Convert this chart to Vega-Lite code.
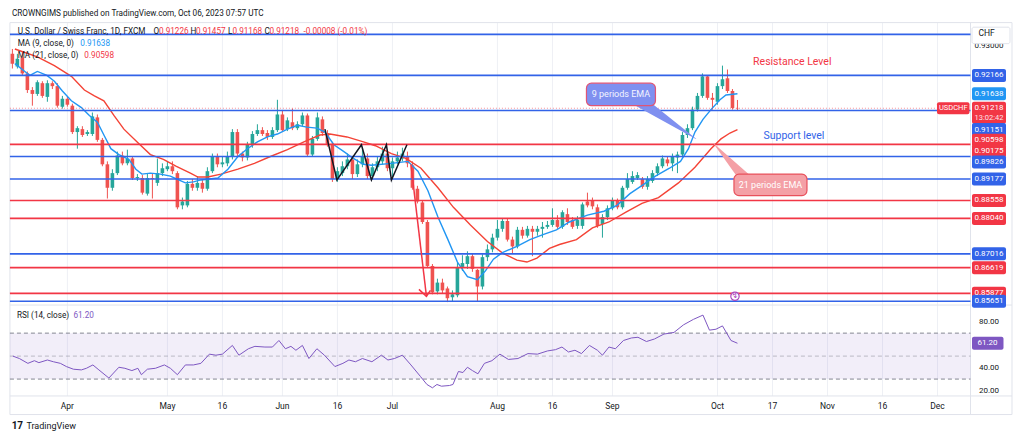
{
"$schema":"https://vega.github.io/schema/vega-lite/v6.json",
"width":1024,"height":443,
"autosize":{"type":"fit","contains":"padding"},
"padding":0,
"background":"white",
"config":{"view":{"stroke":null},"font":"Roboto"},
"datasets":{
"candles":[
{"i":0,"o":0.92787,"h":0.92928,"l":0.92364,"c":0.92505},
{"i":1,"o":0.92420,"h":0.92787,"l":0.92364,"c":0.92646},
{"i":2,"o":0.92674,"h":0.92843,"l":0.92166,"c":0.92223},
{"i":3,"o":0.92223,"h":0.92279,"l":0.91659,"c":0.91743},
{"i":4,"o":0.91743,"h":0.91828,"l":0.91292,"c":0.91631},
{"i":5,"o":0.91631,"h":0.92025,"l":0.91574,"c":0.91969},
{"i":6,"o":0.91941,"h":0.91997,"l":0.91518,"c":0.91574},
{"i":7,"o":0.91546,"h":0.92025,"l":0.91405,"c":0.91941},
{"i":8,"o":0.91941,"h":0.91997,"l":0.91772,"c":0.91856},
{"i":9,"o":0.91856,"h":0.91941,"l":0.91236,"c":0.91292},
{"i":10,"o":0.91264,"h":0.91574,"l":0.91207,"c":0.91490},
{"i":11,"o":0.91490,"h":0.91546,"l":0.91264,"c":0.91320},
{"i":12,"o":0.91292,"h":0.91349,"l":0.90474,"c":0.90531},
{"i":13,"o":0.90531,"h":0.90700,"l":0.90051,"c":0.90643},
{"i":14,"o":0.90615,"h":0.90700,"l":0.90390,"c":0.90446},
{"i":15,"o":0.90474,"h":0.90587,"l":0.90418,"c":0.90531},
{"i":16,"o":0.90474,"h":0.91095,"l":0.90418,"c":0.90982},
{"i":17,"o":0.90954,"h":0.91038,"l":0.90249,"c":0.90305},
{"i":18,"o":0.90305,"h":0.90361,"l":0.89544,"c":0.89600},
{"i":19,"o":0.89600,"h":0.89685,"l":0.88613,"c":0.88923},
{"i":20,"o":0.88923,"h":0.89459,"l":0.88838,"c":0.89346},
{"i":21,"o":0.89346,"h":0.89967,"l":0.89290,"c":0.89854},
{"i":22,"o":0.89854,"h":0.89967,"l":0.89572,"c":0.89628},
{"i":23,"o":0.89628,"h":0.90023,"l":0.89572,"c":0.89769},
{"i":24,"o":0.89769,"h":0.89826,"l":0.89149,"c":0.89205},
{"i":25,"o":0.89205,"h":0.89318,"l":0.89120,"c":0.89233},
{"i":26,"o":0.89205,"h":0.89290,"l":0.88726,"c":0.88782},
{"i":27,"o":0.88754,"h":0.89346,"l":0.88697,"c":0.89205},
{"i":28,"o":0.89205,"h":0.89346,"l":0.88613,"c":0.89177},
{"i":29,"o":0.89064,"h":0.89769,"l":0.88979,"c":0.89346},
{"i":30,"o":0.89346,"h":0.89628,"l":0.89261,"c":0.89487},
{"i":31,"o":0.89459,"h":0.89685,"l":0.89402,"c":0.89544},
{"i":32,"o":0.89544,"h":0.89685,"l":0.89318,"c":0.89402},
{"i":33,"o":0.89346,"h":0.89402,"l":0.88302,"c":0.88359},
{"i":34,"o":0.88415,"h":0.88641,"l":0.88302,"c":0.88528},
{"i":35,"o":0.88415,"h":0.89120,"l":0.88359,"c":0.89036},
{"i":36,"o":0.89036,"h":0.89177,"l":0.88838,"c":0.88923},
{"i":37,"o":0.88923,"h":0.89261,"l":0.88838,"c":0.89064},
{"i":38,"o":0.89064,"h":0.89177,"l":0.88782,"c":0.88895},
{"i":39,"o":0.88895,"h":0.89515,"l":0.88838,"c":0.89402},
{"i":40,"o":0.89402,"h":0.89910,"l":0.89346,"c":0.89826},
{"i":41,"o":0.89826,"h":0.89910,"l":0.89515,"c":0.89600},
{"i":42,"o":0.89600,"h":0.89826,"l":0.89515,"c":0.89656},
{"i":43,"o":0.89628,"h":0.89967,"l":0.89544,"c":0.89826},
{"i":44,"o":0.89826,"h":0.90615,"l":0.89741,"c":0.90531},
{"i":45,"o":0.90531,"h":0.90615,"l":0.89826,"c":0.89910},
{"i":46,"o":0.89910,"h":0.89967,"l":0.89685,"c":0.89798},
{"i":47,"o":0.89798,"h":0.90249,"l":0.89713,"c":0.90164},
{"i":48,"o":0.90164,"h":0.90559,"l":0.90079,"c":0.90474},
{"i":49,"o":0.90474,"h":0.90756,"l":0.90418,"c":0.90587},
{"i":50,"o":0.90587,"h":0.90672,"l":0.90418,"c":0.90474},
{"i":51,"o":0.90503,"h":0.90587,"l":0.90305,"c":0.90390},
{"i":52,"o":0.90390,"h":0.90672,"l":0.90333,"c":0.90587},
{"i":53,"o":0.90587,"h":0.91462,"l":0.90531,"c":0.91038},
{"i":54,"o":0.91038,"h":0.91151,"l":0.90531,"c":0.90587},
{"i":55,"o":0.90615,"h":0.90954,"l":0.90559,"c":0.90869},
{"i":56,"o":0.90813,"h":0.91207,"l":0.90587,"c":0.90643},
{"i":57,"o":0.90643,"h":0.90841,"l":0.90587,"c":0.90756},
{"i":58,"o":0.90756,"h":0.91095,"l":0.90700,"c":0.91010},
{"i":59,"o":0.91010,"h":0.91066,"l":0.89826,"c":0.89882},
{"i":60,"o":0.89882,"h":0.90418,"l":0.89826,"c":0.90333},
{"i":61,"o":0.90333,"h":0.91095,"l":0.90277,"c":0.90954},
{"i":62,"o":0.90897,"h":0.90982,"l":0.90418,"c":0.90503},
{"i":63,"o":0.90503,"h":0.90587,"l":0.90108,"c":0.90192},
{"i":64,"o":0.90192,"h":0.90249,"l":0.89092,"c":0.89177},
{"i":65,"o":0.89177,"h":0.89515,"l":0.89092,"c":0.89402},
{"i":66,"o":0.89346,"h":0.89685,"l":0.89261,"c":0.89544},
{"i":67,"o":0.89544,"h":0.89910,"l":0.89459,"c":0.89741},
{"i":68,"o":0.89741,"h":0.89826,"l":0.89177,"c":0.89318},
{"i":69,"o":0.89318,"h":0.89741,"l":0.89233,"c":0.89600},
{"i":70,"o":0.89600,"h":0.90079,"l":0.89515,"c":0.89826},
{"i":71,"o":0.89769,"h":0.89910,"l":0.89177,"c":0.89261},
{"i":72,"o":0.89261,"h":0.89628,"l":0.89177,"c":0.89515},
{"i":73,"o":0.89515,"h":0.89826,"l":0.89402,"c":0.89685},
{"i":74,"o":0.89685,"h":0.90108,"l":0.89600,"c":0.89910},
{"i":75,"o":0.89910,"h":0.90023,"l":0.89402,"c":0.89487},
{"i":76,"o":0.89487,"h":0.89798,"l":0.89177,"c":0.89685},
{"i":77,"o":0.89685,"h":0.89967,"l":0.89600,"c":0.89798},
{"i":78,"o":0.89769,"h":0.90079,"l":0.89685,"c":0.89910},
{"i":79,"o":0.89826,"h":0.89967,"l":0.89515,"c":0.89628},
{"i":80,"o":0.89572,"h":0.89685,"l":0.88867,"c":0.88923},
{"i":81,"o":0.88895,"h":0.88979,"l":0.88472,"c":0.88528},
{"i":82,"o":0.88500,"h":0.88556,"l":0.87880,"c":0.87936},
{"i":83,"o":0.87936,"h":0.87992,"l":0.86611,"c":0.86667},
{"i":84,"o":0.86667,"h":0.86723,"l":0.85849,"c":0.85906},
{"i":85,"o":0.85934,"h":0.86300,"l":0.85849,"c":0.86187},
{"i":86,"o":0.86187,"h":0.86300,"l":0.85878,"c":0.85962},
{"i":87,"o":0.86018,"h":0.86074,"l":0.85624,"c":0.85736},
{"i":88,"o":0.85764,"h":0.85962,"l":0.85652,"c":0.85849},
{"i":89,"o":0.85821,"h":0.86751,"l":0.85764,"c":0.86639},
{"i":90,"o":0.86639,"h":0.86977,"l":0.86526,"c":0.86751},
{"i":91,"o":0.86723,"h":0.87090,"l":0.86582,"c":0.86949},
{"i":92,"o":0.86949,"h":0.87033,"l":0.86498,"c":0.86582},
{"i":93,"o":0.86554,"h":0.86582,"l":0.85652,"c":0.86074},
{"i":94,"o":0.86074,"h":0.87005,"l":0.85990,"c":0.86921},
{"i":95,"o":0.86921,"h":0.87287,"l":0.86808,"c":0.87146},
{"i":96,"o":0.87146,"h":0.87597,"l":0.87062,"c":0.87484},
{"i":97,"o":0.87484,"h":0.87992,"l":0.87400,"c":0.87738},
{"i":98,"o":0.87738,"h":0.88049,"l":0.87654,"c":0.87964},
{"i":99,"o":0.87964,"h":0.88049,"l":0.87372,"c":0.87428},
{"i":100,"o":0.87428,"h":0.87513,"l":0.87033,"c":0.87231},
{"i":101,"o":0.87231,"h":0.87795,"l":0.87174,"c":0.87710},
{"i":102,"o":0.87710,"h":0.87795,"l":0.87456,"c":0.87541},
{"i":103,"o":0.87541,"h":0.87823,"l":0.87484,"c":0.87738},
{"i":104,"o":0.87738,"h":0.87823,"l":0.86949,"c":0.87654},
{"i":105,"o":0.87654,"h":0.87823,"l":0.87541,"c":0.87738},
{"i":106,"o":0.87738,"h":0.87936,"l":0.87484,"c":0.87795},
{"i":107,"o":0.87795,"h":0.87964,"l":0.87738,"c":0.87851},
{"i":108,"o":0.87851,"h":0.88331,"l":0.87795,"c":0.87992},
{"i":109,"o":0.87992,"h":0.88133,"l":0.87738,"c":0.87795},
{"i":110,"o":0.87795,"h":0.88274,"l":0.87738,"c":0.88218},
{"i":111,"o":0.88162,"h":0.88331,"l":0.87851,"c":0.87936},
{"i":112,"o":0.87992,"h":0.88077,"l":0.87738,"c":0.87795},
{"i":113,"o":0.87823,"h":0.88105,"l":0.87738,"c":0.87992},
{"i":114,"o":0.87823,"h":0.88500,"l":0.87738,"c":0.88443},
{"i":115,"o":0.88528,"h":0.88782,"l":0.88359,"c":0.88415},
{"i":116,"o":0.88556,"h":0.88641,"l":0.88302,"c":0.88387},
{"i":117,"o":0.88359,"h":0.88443,"l":0.87767,"c":0.87823},
{"i":118,"o":0.87880,"h":0.88162,"l":0.87484,"c":0.88077},
{"i":119,"o":0.88077,"h":0.88415,"l":0.87992,"c":0.88331},
{"i":120,"o":0.88331,"h":0.88641,"l":0.88274,"c":0.88556},
{"i":121,"o":0.88556,"h":0.88613,"l":0.88302,"c":0.88359},
{"i":122,"o":0.88359,"h":0.88979,"l":0.88302,"c":0.88923},
{"i":123,"o":0.88923,"h":0.89346,"l":0.88867,"c":0.89177},
{"i":124,"o":0.89092,"h":0.89402,"l":0.89036,"c":0.89261},
{"i":125,"o":0.89205,"h":0.89374,"l":0.89149,"c":0.89290},
{"i":126,"o":0.89177,"h":0.89233,"l":0.88895,"c":0.88951},
{"i":127,"o":0.88951,"h":0.89261,"l":0.88867,"c":0.89177},
{"i":128,"o":0.89120,"h":0.89431,"l":0.89064,"c":0.89346},
{"i":129,"o":0.89346,"h":0.89628,"l":0.89261,"c":0.89544},
{"i":130,"o":0.89544,"h":0.89854,"l":0.89487,"c":0.89769},
{"i":131,"o":0.89741,"h":0.89826,"l":0.89544,"c":0.89628},
{"i":132,"o":0.89628,"h":0.89910,"l":0.89402,"c":0.89826},
{"i":133,"o":0.89798,"h":0.89967,"l":0.89346,"c":0.89882},
{"i":134,"o":0.89882,"h":0.90531,"l":0.89826,"c":0.90446},
{"i":135,"o":0.90446,"h":0.90756,"l":0.90361,"c":0.90643},
{"i":136,"o":0.90643,"h":0.91264,"l":0.90587,"c":0.91179},
{"i":137,"o":0.91179,"h":0.91659,"l":0.91123,"c":0.91574},
{"i":138,"o":0.91574,"h":0.92223,"l":0.91518,"c":0.92138},
{"i":139,"o":0.92138,"h":0.92166,"l":0.91462,"c":0.91518},
{"i":140,"o":0.91518,"h":0.91659,"l":0.91179,"c":0.91462},
{"i":141,"o":0.91405,"h":0.91941,"l":0.91320,"c":0.91856},
{"i":142,"o":0.91856,"h":0.92448,"l":0.91772,"c":0.92054},
{"i":143,"o":0.92082,"h":0.92336,"l":0.91659,"c":0.91715},
{"i":144,"o":0.91715,"h":0.91772,"l":0.91179,"c":0.91226},
{"i":145,"o":0.91226,"h":0.91457,"l":0.91168,"c":0.91218}
],
"ma9":[
{"i":0.5,"v":0.92505},{"i":2.5,"v":0.92279},{"i":3.5,"v":0.92166},{"i":5,"v":0.92279},{"i":6.9,"v":0.92166},{"i":8.4,"v":0.91997},{"i":10,"v":0.91715},{"i":11.8,"v":0.91433},{"i":13.8,"v":0.91236},{"i":15.4,"v":0.9101},{"i":17,"v":0.90813},{"i":18.3,"v":0.90446},{"i":19.7,"v":0.90051},{"i":21.3,"v":0.89882},{"i":23.3,"v":0.89741},{"i":24.7,"v":0.89459},{"i":25.9,"v":0.89318},{"i":27.6,"v":0.89346},{"i":29.6,"v":0.89318},{"i":31.6,"v":0.89261},{"i":32.8,"v":0.89177},{"i":34.6,"v":0.89064},{"i":36.2,"v":0.89092},{"i":37.7,"v":0.89149},{"i":41.1,"v":0.89205},{"i":43.1,"v":0.89459},{"i":45.1,"v":0.89826},{"i":47,"v":0.90051},{"i":49,"v":0.90249},{"i":51,"v":0.9039},{"i":53,"v":0.90474},{"i":55,"v":0.90615},{"i":57,"v":0.90728},{"i":58.9,"v":0.90672},{"i":60.9,"v":0.90643},{"i":62.5,"v":0.90531},{"i":64.3,"v":0.90164},{"i":66.3,"v":0.89967},{"i":68.2,"v":0.89769},{"i":70.2,"v":0.896},{"i":71.8,"v":0.89572},{"i":75.8,"v":0.89628},{"i":79.1,"v":0.89685},{"i":81.1,"v":0.89402},{"i":83.1,"v":0.88838},{"i":85.1,"v":0.88077},{"i":87.1,"v":0.87428},{"i":89,"v":0.8678},{"i":91,"v":0.86357},{"i":93,"v":0.86272},{"i":94.6,"v":0.86526},{"i":96.2,"v":0.86864},{"i":98.1,"v":0.87062},{"i":100.9,"v":0.87231},{"i":103.5,"v":0.87428},{"i":106.1,"v":0.87569},{"i":108.8,"v":0.8771},{"i":111.4,"v":0.87936},{"i":115,"v":0.88133},{"i":118.3,"v":0.88246},{"i":120.9,"v":0.88415},{"i":123.5,"v":0.88754},{"i":126.1,"v":0.89008},{"i":128.6,"v":0.89261},{"i":131.4,"v":0.89487},{"i":133.6,"v":0.89685},{"i":135.2,"v":0.90051},{"i":136.5,"v":0.90531},{"i":138.1,"v":0.90897},{"i":139.7,"v":0.91179},{"i":141.5,"v":0.91462},{"i":142.7,"v":0.91602},{"i":145,"v":0.91638}
],
"ma21":[
{"i":0.5,"v":0.92928},{"i":5,"v":0.92702},{"i":8.4,"v":0.92448},{"i":11.8,"v":0.92138},{"i":14.4,"v":0.91743},{"i":16.4,"v":0.91574},{"i":18.3,"v":0.91433},{"i":20.3,"v":0.9101},{"i":22.3,"v":0.90615},{"i":24.9,"v":0.90249},{"i":27.6,"v":0.89882},{"i":30.2,"v":0.89741},{"i":32.8,"v":0.89544},{"i":35.6,"v":0.89346},{"i":37.1,"v":0.89233},{"i":39.1,"v":0.89233},{"i":41.7,"v":0.89318},{"i":45.1,"v":0.89459},{"i":48.4,"v":0.89628},{"i":51.6,"v":0.89826},{"i":55,"v":0.90023},{"i":58.3,"v":0.90249},{"i":61.5,"v":0.90446},{"i":63.5,"v":0.90474},{"i":66.9,"v":0.9039},{"i":70.2,"v":0.90249},{"i":72.6,"v":0.90136},{"i":75.8,"v":0.8991},{"i":78.7,"v":0.89769},{"i":81.7,"v":0.89487},{"i":85.1,"v":0.88923},{"i":88.2,"v":0.88359},{"i":91.6,"v":0.87851},{"i":95,"v":0.87372},{"i":98.1,"v":0.87033},{"i":100.9,"v":0.86836},{"i":102.9,"v":0.8678},{"i":104.9,"v":0.86892},{"i":107.4,"v":0.87174},{"i":109.4,"v":0.87287},{"i":112.8,"v":0.87428},{"i":116,"v":0.87767},{"i":119.3,"v":0.87936},{"i":122.7,"v":0.88218},{"i":125.9,"v":0.88472},{"i":129.2,"v":0.88641},{"i":133.2,"v":0.89064},{"i":136.5,"v":0.89515},{"i":139.7,"v":0.90051},{"i":141.7,"v":0.90333},{"i":143.5,"v":0.90503},{"i":145,"v":0.90598}
],
"rsi":[
{"i":0.1,"r":50.0},{"i":1.4,"r":47.9},{"i":3.1,"r":43.7},{"i":4.4,"r":46.0},{"i":5.3,"r":44.3},{"i":7,"r":46.6},{"i":8.2,"r":45.1},{"i":9.6,"r":43.7},{"i":10.8,"r":40.9},{"i":12.2,"r":38.6},{"i":13.8,"r":38.0},{"i":14.8,"r":39.4},{"i":16.1,"r":42.3},{"i":17.3,"r":38.0},{"i":19.3,"r":30.9},{"i":21.3,"r":40.3},{"i":22.5,"r":39.4},{"i":23.9,"r":37.4},{"i":25.1,"r":39.4},{"i":25.8,"r":33.8},{"i":27,"r":38.6},{"i":28.6,"r":39.4},{"i":30.4,"r":42.3},{"i":31.6,"r":39.4},{"i":33,"r":33.8},{"i":34.6,"r":42.3},{"i":36.2,"r":42.3},{"i":37.7,"r":43.7},{"i":39.4,"r":51.7},{"i":40.7,"r":50.8},{"i":42,"r":51.7},{"i":44,"r":59.3},{"i":45.3,"r":50.8},{"i":47.2,"r":56.4},{"i":48.5,"r":58.5},{"i":50.5,"r":57.9},{"i":52,"r":57.9},{"i":53.3,"r":63.6},{"i":54.6,"r":56.4},{"i":55.7,"r":58.5},{"i":56.7,"r":55.1},{"i":58,"r":59.3},{"i":59.3,"r":47.9},{"i":60.9,"r":56.4},{"i":62.4,"r":50.8},{"i":64.5,"r":40.9},{"i":66.1,"r":43.7},{"i":67.3,"r":46.6},{"i":68.6,"r":45.1},{"i":70,"r":47.9},{"i":71.9,"r":45.1},{"i":73.8,"r":50.8},{"i":75.1,"r":46.6},{"i":76.4,"r":47.9},{"i":78,"r":50.8},{"i":79.7,"r":42.3},{"i":81.6,"r":32.3},{"i":82.9,"r":25.3},{"i":84,"r":22.4},{"i":84.9,"r":25.3},{"i":85.8,"r":23.8},{"i":87.4,"r":24.4},{"i":88.1,"r":25.3},{"i":89.2,"r":36.6},{"i":90.1,"r":35.7},{"i":91,"r":40.3},{"i":92,"r":37.4},{"i":93.1,"r":34.6},{"i":94.4,"r":43.7},{"i":95.9,"r":46.0},{"i":97.5,"r":51.7},{"i":99.2,"r":47.1},{"i":101.1,"r":47.9},{"i":103.1,"r":52.2},{"i":105,"r":51.7},{"i":107,"r":54.5},{"i":108.6,"r":55.6},{"i":109.9,"r":57.9},{"i":111.2,"r":53.6},{"i":112.5,"r":55.1},{"i":113.8,"r":52.2},{"i":115.4,"r":59.3},{"i":117,"r":55.1},{"i":118,"r":50.8},{"i":119.3,"r":57.9},{"i":120.6,"r":56.4},{"i":122.2,"r":63.6},{"i":123.8,"r":65.8},{"i":125.1,"r":66.4},{"i":126.8,"r":62.7},{"i":128.4,"r":64.9},{"i":130.3,"r":69.2},{"i":132.3,"r":70.6},{"i":134.2,"r":77.2},{"i":136.2,"r":82.0},{"i":138.1,"r":85.7},{"i":139.4,"r":72.6},{"i":140.7,"r":73.4},{"i":142,"r":76.3},{"i":143.7,"r":63.6},{"i":145,"r":61.2}
],
"levels":[
{"v":0.9335,"g":"A"},{"v":0.92166,"g":"A"},{"v":0.91151,"g":"A"},{"v":0.90175,"g":"B"},{"v":0.89826,"g":"A"},{"v":0.89177,"g":"A"},{"v":0.88558,"g":"B"},{"v":0.8804,"g":"B"},{"v":0.87016,"g":"A"},{"v":0.86619,"g":"B"},{"v":0.85877,"g":"B"},{"v":0.85651,"g":"A"}
],
"tags":[
{"v":0.92166,"g":"A"},{"v":0.91638,"g":"MA9"},{"v":0.91151,"g":"A"},{"v":0.90598,"g":"MA21"},{"v":0.90175,"g":"B"},{"v":0.89826,"g":"A"},{"v":0.89177,"g":"A"},{"v":0.88558,"g":"B"},{"v":0.8804,"g":"B"},{"v":0.87016,"g":"A"},{"v":0.86619,"g":"B"},{"v":0.85877,"g":"B"},{"v":0.85651,"g":"A"}
],
"zigzag":[
{"k":0,"i":62.5,"p":0.90615},{"k":1,"i":64.9,"p":0.89148},{"k":2,"i":69.8,"p":0.90164},{"k":3,"i":71.8,"p":0.89148},{"k":4,"i":74.8,"p":0.90164},{"k":5,"i":75.8,"p":0.89148},{"k":6,"i":78.9,"p":0.90164}
],
"arrow":[
{"part":"shaft","k":0,"i":79.7,"p":0.896},{"part":"shaft","k":1,"i":82.8,"p":0.85793},
{"part":"head","k":0,"i":81.3,"p":0.8599},{"part":"head","k":1,"i":82.8,"p":0.85793},{"part":"head","k":2,"i":83.6,"p":0.85962}
],
"pointers":[
{"c":"ema9","end":"base","i":125.3,"p":0.91433},{"c":"ema9","end":"tip","i":136.7,"p":0.90333},
{"c":"ema21","end":"base","i":147.0,"p":0.8912},{"c":"ema21","end":"tip","i":140.3,"p":0.90192}
],
"ticks":[
{"i":11,"t":"Apr"},{"i":31,"t":"May"},{"i":42,"t":"16"},{"i":54,"t":"Jun"},{"i":65,"t":"16"},{"i":76,"t":"Jul"},{"i":97,"t":"Aug"},{"i":108,"t":"16"},{"i":120,"t":"Sep"},{"i":141,"t":"Oct"},{"i":152,"t":"17"},{"i":163,"t":"Nov"},{"i":174,"t":"16"},{"i":185,"t":"Dec"}
],
"pticks":[{"v":0.93}]
},
"layer":[
{
"layer":[
{"data":{"name":"ticks"},"mark":{"type":"rule","color":"#eef0f5","strokeWidth":1},
 "encoding":{"x":{"field":"i","type":"quantitative","scale":{"domain":[-1.475,201.3],"nice":false,"zero":false},"axis":null},
 "y":{"datum":0.93689,"type":"quantitative","scale":{"domain":[0.81703,0.94197],"nice":false,"zero":false},"axis":null},"y2":{"datum":0.82916}}},
{"data":{"values":[{}]},"mark":{"type":"rect","fillOpacity":0,"stroke":"#e0e3eb","strokeWidth":1},
 "encoding":{"x":{"datum":-0.49,"type":"quantitative","scale":{"domain":[-1.475,201.3],"nice":false,"zero":false},"axis":null},"x2":{"datum":199.9},
 "y":{"datum":0.93689,"type":"quantitative","scale":{"domain":[0.81703,0.94197],"nice":false,"zero":false},"axis":null},"y2":{"datum":0.8238}}},
{"data":{"values":[{"p":0.85539},{"p":0.82916}]},"mark":{"type":"rule","color":"#e0e3eb"},
 "encoding":{"x":{"datum":-0.49,"type":"quantitative","scale":{"domain":[-1.475,201.3],"nice":false,"zero":false},"axis":null},"x2":{"datum":199.9},
 "y":{"field":"p","type":"quantitative","scale":{"domain":[0.81703,0.94197],"nice":false,"zero":false},"axis":null}}},
{"data":{"values":[{}]},"mark":{"type":"rule","color":"#e0e3eb"},
 "encoding":{"x":{"datum":191.6,"type":"quantitative","scale":{"domain":[-1.475,201.3],"nice":false,"zero":false},"axis":null},
 "y":{"datum":0.93689,"type":"quantitative","scale":{"domain":[0.81703,0.94197],"nice":false,"zero":false},"axis":null},"y2":{"datum":0.8238}}},
{"data":{"name":"candles"},"mark":{"type":"rule","strokeWidth":1},
 "encoding":{"x":{"field":"i","type":"quantitative","scale":{"domain":[-1.475,201.3],"nice":false,"zero":false},"axis":null},
 "y":{"field":"l","type":"quantitative","scale":{"domain":[0.81703,0.94197],"nice":false,"zero":false},"axis":null},"y2":{"field":"h"},
 "color":{"condition":{"test":"datum.c >= datum.o","value":"#26a69a"},"value":"#ef5350"}}},
{"data":{"name":"candles"},"mark":{"type":"bar","size":3.6},
 "encoding":{"x":{"field":"i","type":"quantitative","scale":{"domain":[-1.475,201.3],"nice":false,"zero":false},"axis":null},
 "y":{"field":"o","type":"quantitative","scale":{"domain":[0.81703,0.94197],"nice":false,"zero":false},"axis":null},"y2":{"field":"c"},
 "color":{"condition":{"test":"datum.c >= datum.o","value":"#26a69a"},"value":"#ef5350"}}},
{"data":{"name":"ma21"},"mark":{"type":"line","color":"#f44336","strokeWidth":1.4},
 "encoding":{"x":{"field":"i","type":"quantitative","scale":{"domain":[-1.475,201.3],"nice":false,"zero":false},"axis":null},
 "y":{"field":"v","type":"quantitative","scale":{"domain":[0.81703,0.94197],"nice":false,"zero":false},"axis":null}}},
{"data":{"name":"ma9"},"mark":{"type":"line","color":"#2196f3","strokeWidth":1.4},
 "encoding":{"x":{"field":"i","type":"quantitative","scale":{"domain":[-1.475,201.3],"nice":false,"zero":false},"axis":null},
 "y":{"field":"v","type":"quantitative","scale":{"domain":[0.81703,0.94197],"nice":false,"zero":false},"axis":null}}},
{"data":{"name":"levels"},"mark":{"type":"rule","strokeWidth":1.6},
 "encoding":{"x":{"datum":-0.49,"type":"quantitative","scale":{"domain":[-1.475,201.3],"nice":false,"zero":false},"axis":null},"x2":{"datum":191.6},
 "y":{"field":"v","type":"quantitative","scale":{"domain":[0.81703,0.94197],"nice":false,"zero":false},"axis":null},
 "color":{"field":"g","type":"nominal","scale":{"domain":["A","B","MA9","MA21"],"range":["#3263e8","#f23645","#2196f3","#f23645"]},"legend":null}}},
{"data":{"values":[{"v":0.91218}]},"mark":{"type":"rule","color":"#f23645","opacity":0.55,"strokeDash":[1,2]},
 "encoding":{"x":{"datum":-0.49,"type":"quantitative","scale":{"domain":[-1.475,201.3],"nice":false,"zero":false},"axis":null},"x2":{"datum":184.9},
 "y":{"field":"v","type":"quantitative","scale":{"domain":[0.81703,0.94197],"nice":false,"zero":false},"axis":null}}},
{"data":{"name":"zigzag"},"mark":{"type":"line","color":"#131722","strokeWidth":1.5},
 "encoding":{"x":{"field":"i","type":"quantitative","scale":{"domain":[-1.475,201.3],"nice":false,"zero":false},"axis":null},
 "y":{"field":"p","type":"quantitative","scale":{"domain":[0.81703,0.94197],"nice":false,"zero":false},"axis":null},"order":{"field":"k"}}},
{"data":{"name":"arrow"},"mark":{"type":"line","color":"#f23645","strokeWidth":1.5},
 "encoding":{"x":{"field":"i","type":"quantitative","scale":{"domain":[-1.475,201.3],"nice":false,"zero":false},"axis":null},
 "y":{"field":"p","type":"quantitative","scale":{"domain":[0.81703,0.94197],"nice":false,"zero":false},"axis":null},"detail":{"field":"part"},"order":{"field":"k"}}},
{"data":{"name":"pointers"},"transform":[{"filter":"datum.c == 'ema9'"}],"mark":{"type":"trail","color":"#7f90f0"},
 "encoding":{"x":{"field":"i","type":"quantitative","scale":{"domain":[-1.475,201.3],"nice":false,"zero":false},"axis":null},
 "y":{"field":"p","type":"quantitative","scale":{"domain":[0.81703,0.94197],"nice":false,"zero":false},"axis":null},
 "size":{"field":"end","type":"ordinal","scale":{"domain":["base","tip"],"range":[12,0.5]},"legend":null}}},
{"data":{"values":[{}]},"mark":{"type":"rect","cornerRadius":5,"fill":"#7f90f0","stroke":"#e05575","strokeWidth":1.2},
 "encoding":{"x":{"datum":114.8,"type":"quantitative","scale":{"domain":[-1.475,201.3],"nice":false,"zero":false},"axis":null},"x2":{"datum":128.6},
 "y":{"datum":0.91941,"type":"quantitative","scale":{"domain":[0.81703,0.94197],"nice":false,"zero":false},"axis":null},"y2":{"datum":0.91292}}},
{"data":{"values":[{}]},"mark":{"type":"text","text":"9 periods EMA","color":"#f4f5ff","fontSize":9,"align":"center","baseline":"middle"},
 "encoding":{"x":{"datum":121.7,"type":"quantitative","scale":{"domain":[-1.475,201.3],"nice":false,"zero":false},"axis":null},
 "y":{"datum":0.91616,"type":"quantitative","scale":{"domain":[0.81703,0.94197],"nice":false,"zero":false},"axis":null}}},
{"data":{"name":"pointers"},"transform":[{"filter":"datum.c == 'ema21'"}],"mark":{"type":"trail","color":"#f4a0a6"},
 "encoding":{"x":{"field":"i","type":"quantitative","scale":{"domain":[-1.475,201.3],"nice":false,"zero":false},"axis":null},
 "y":{"field":"p","type":"quantitative","scale":{"domain":[0.81703,0.94197],"nice":false,"zero":false},"axis":null},
 "size":{"field":"end","type":"ordinal","scale":{"domain":["base","tip"],"range":[12,0.5]},"legend":null}}},
{"data":{"values":[{}]},"mark":{"type":"rect","cornerRadius":5,"fill":"#f4a0a6","stroke":"#e8505b","strokeWidth":1.2},
 "encoding":{"x":{"datum":144.3,"type":"quantitative","scale":{"domain":[-1.475,201.3],"nice":false,"zero":false},"axis":null},"x2":{"datum":158.9},
 "y":{"datum":0.89318,"type":"quantitative","scale":{"domain":[0.81703,0.94197],"nice":false,"zero":false},"axis":null},"y2":{"datum":0.88697}}},
{"data":{"values":[{}]},"mark":{"type":"text","text":"21 periods EMA","color":"#ffffff","fontSize":9,"align":"center","baseline":"middle"},
 "encoding":{"x":{"datum":151.6,"type":"quantitative","scale":{"domain":[-1.475,201.3],"nice":false,"zero":false},"axis":null},
 "y":{"datum":0.89008,"type":"quantitative","scale":{"domain":[0.81703,0.94197],"nice":false,"zero":false},"axis":null}}},
{"data":{"values":[{}]},"mark":{"type":"text","text":"Resistance Level","color":"#f23645","fontSize":10.5,"align":"center","baseline":"middle"},
 "encoding":{"x":{"datum":155.96,"type":"quantitative","scale":{"domain":[-1.475,201.3],"nice":false,"zero":false},"axis":null},
 "y":{"datum":0.92561,"type":"quantitative","scale":{"domain":[0.81703,0.94197],"nice":false,"zero":false},"axis":null}}},
{"data":{"values":[{}]},"mark":{"type":"text","text":"Support level","color":"#3263e8","fontSize":10.5,"align":"center","baseline":"middle"},
 "encoding":{"x":{"datum":156.3,"type":"quantitative","scale":{"domain":[-1.475,201.3],"nice":false,"zero":false},"axis":null},
 "y":{"datum":0.90418,"type":"quantitative","scale":{"domain":[0.81703,0.94197],"nice":false,"zero":false},"axis":null}}},
{"data":{"values":[{}]},"mark":{"type":"point","shape":"circle","filled":true,"fill":"white","stroke":"#ab47bc","strokeWidth":1.2,"size":70,"opacity":1},
 "encoding":{"x":{"datum":144.5,"type":"quantitative","scale":{"domain":[-1.475,201.3],"nice":false,"zero":false},"axis":null},
 "y":{"datum":0.85793,"type":"quantitative","scale":{"domain":[0.81703,0.94197],"nice":false,"zero":false},"axis":null}}},
{"data":{"values":[{}]},"mark":{"type":"text","text":"↯","font":"DejaVu Sans","color":"#ab47bc","fontSize":8,"align":"center","baseline":"middle"},
 "encoding":{"x":{"datum":144.5,"type":"quantitative","scale":{"domain":[-1.475,201.3],"nice":false,"zero":false},"axis":null},
 "y":{"datum":0.85793,"type":"quantitative","scale":{"domain":[0.81703,0.94197],"nice":false,"zero":false},"axis":null}}},
{"data":{"values":[{}]},"mark":{"type":"text","text":"CROWNGIMS published on TradingView.com, Oct 06, 2023 07:57 UTC","color":"#131722","fontSize":8.2,"align":"left","baseline":"middle"},
 "encoding":{"x":{"datum":-0.08,"type":"quantitative","scale":{"domain":[-1.475,201.3],"nice":false,"zero":false},"axis":null},
 "y":{"datum":0.93943,"type":"quantitative","scale":{"domain":[0.81703,0.94197],"nice":false,"zero":false},"axis":null}}},
{"data":{"values":[{}]},"mark":{"type":"text","text":"U.S. Dollar / Swiss Franc, 1D, FXCM","color":"#131722","fontSize":8.2,"align":"left","baseline":"middle"},
 "encoding":{"x":{"datum":1.05,"type":"quantitative","scale":{"domain":[-1.475,201.3],"nice":false,"zero":false},"axis":null},
 "y":{"datum":0.93427,"type":"quantitative","scale":{"domain":[0.81703,0.94197],"nice":false,"zero":false},"axis":null}}},
{"data":{"values":[{}]},"mark":{"type":"text","text":"O","color":"#131722","fontSize":8.2,"align":"left","baseline":"middle"},
 "encoding":{"x":{"datum":28.24,"type":"quantitative","scale":{"domain":[-1.475,201.3],"nice":false,"zero":false},"axis":null},
 "y":{"datum":0.93427,"type":"quantitative","scale":{"domain":[0.81703,0.94197],"nice":false,"zero":false},"axis":null}}},
{"data":{"values":[{}]},"mark":{"type":"text","text":"0.91226","color":"#f23645","fontSize":8.2,"align":"left","baseline":"middle"},
 "encoding":{"x":{"datum":29.3,"type":"quantitative","scale":{"domain":[-1.475,201.3],"nice":false,"zero":false},"axis":null},
 "y":{"datum":0.93427,"type":"quantitative","scale":{"domain":[0.81703,0.94197],"nice":false,"zero":false},"axis":null}}},
{"data":{"values":[{}]},"mark":{"type":"text","text":"H","color":"#131722","fontSize":8.2,"align":"left","baseline":"middle"},
 "encoding":{"x":{"datum":35.6,"type":"quantitative","scale":{"domain":[-1.475,201.3],"nice":false,"zero":false},"axis":null},
 "y":{"datum":0.93427,"type":"quantitative","scale":{"domain":[0.81703,0.94197],"nice":false,"zero":false},"axis":null}}},
{"data":{"values":[{}]},"mark":{"type":"text","text":"0.91457","color":"#f23645","fontSize":8.2,"align":"left","baseline":"middle"},
 "encoding":{"x":{"datum":36.7,"type":"quantitative","scale":{"domain":[-1.475,201.3],"nice":false,"zero":false},"axis":null},
 "y":{"datum":0.93427,"type":"quantitative","scale":{"domain":[0.81703,0.94197],"nice":false,"zero":false},"axis":null}}},
{"data":{"values":[{}]},"mark":{"type":"text","text":"L","color":"#131722","fontSize":8.2,"align":"left","baseline":"middle"},
 "encoding":{"x":{"datum":43.1,"type":"quantitative","scale":{"domain":[-1.475,201.3],"nice":false,"zero":false},"axis":null},
 "y":{"datum":0.93427,"type":"quantitative","scale":{"domain":[0.81703,0.94197],"nice":false,"zero":false},"axis":null}}},
{"data":{"values":[{}]},"mark":{"type":"text","text":"0.91168","color":"#f23645","fontSize":8.2,"align":"left","baseline":"middle"},
 "encoding":{"x":{"datum":44.0,"type":"quantitative","scale":{"domain":[-1.475,201.3],"nice":false,"zero":false},"axis":null},
 "y":{"datum":0.93427,"type":"quantitative","scale":{"domain":[0.81703,0.94197],"nice":false,"zero":false},"axis":null}}},
{"data":{"values":[{}]},"mark":{"type":"text","text":"C","color":"#131722","fontSize":8.2,"align":"left","baseline":"middle"},
 "encoding":{"x":{"datum":50.4,"type":"quantitative","scale":{"domain":[-1.475,201.3],"nice":false,"zero":false},"axis":null},
 "y":{"datum":0.93427,"type":"quantitative","scale":{"domain":[0.81703,0.94197],"nice":false,"zero":false},"axis":null}}},
{"data":{"values":[{}]},"mark":{"type":"text","text":"0.91218","color":"#f23645","fontSize":8.2,"align":"left","baseline":"middle"},
 "encoding":{"x":{"datum":51.4,"type":"quantitative","scale":{"domain":[-1.475,201.3],"nice":false,"zero":false},"axis":null},
 "y":{"datum":0.93427,"type":"quantitative","scale":{"domain":[0.81703,0.94197],"nice":false,"zero":false},"axis":null}}},
{"data":{"values":[{}]},"mark":{"type":"text","text":"-0.00008 (-0.01%)","color":"#f23645","fontSize":8.2,"align":"left","baseline":"middle"},
 "encoding":{"x":{"datum":58.2,"type":"quantitative","scale":{"domain":[-1.475,201.3],"nice":false,"zero":false},"axis":null},
 "y":{"datum":0.93427,"type":"quantitative","scale":{"domain":[0.81703,0.94197],"nice":false,"zero":false},"axis":null}}},
{"data":{"values":[{}]},"mark":{"type":"text","text":"MA (9, close, 0)","color":"#131722","fontSize":8.2,"align":"left","baseline":"middle"},
 "encoding":{"x":{"datum":1.05,"type":"quantitative","scale":{"domain":[-1.475,201.3],"nice":false,"zero":false},"axis":null},
 "y":{"datum":0.93069,"type":"quantitative","scale":{"domain":[0.81703,0.94197],"nice":false,"zero":false},"axis":null}}},
{"data":{"values":[{}]},"mark":{"type":"text","text":"0.91638","color":"#2196f3","fontSize":8.2,"align":"left","baseline":"middle"},
 "encoding":{"x":{"datum":13.58,"type":"quantitative","scale":{"domain":[-1.475,201.3],"nice":false,"zero":false},"axis":null},
 "y":{"datum":0.93069,"type":"quantitative","scale":{"domain":[0.81703,0.94197],"nice":false,"zero":false},"axis":null}}},
{"data":{"values":[{}]},"mark":{"type":"text","text":"MA (21, close, 0)","color":"#131722","fontSize":8.2,"align":"left","baseline":"middle"},
 "encoding":{"x":{"datum":1.05,"type":"quantitative","scale":{"domain":[-1.475,201.3],"nice":false,"zero":false},"axis":null},
 "y":{"datum":0.92739,"type":"quantitative","scale":{"domain":[0.81703,0.94197],"nice":false,"zero":false},"axis":null}}},
{"data":{"values":[{}]},"mark":{"type":"text","text":"0.90598","color":"#f23645","fontSize":8.2,"align":"left","baseline":"middle"},
 "encoding":{"x":{"datum":14.38,"type":"quantitative","scale":{"domain":[-1.475,201.3],"nice":false,"zero":false},"axis":null},
 "y":{"datum":0.92739,"type":"quantitative","scale":{"domain":[0.81703,0.94197],"nice":false,"zero":false},"axis":null}}},
{"data":{"name":"ticks"},"mark":{"type":"text","color":"#131722","fontSize":8.5,"align":"center","baseline":"middle"},
 "encoding":{"x":{"field":"i","type":"quantitative","scale":{"domain":[-1.475,201.3],"nice":false,"zero":false},"axis":null},
 "y":{"datum":0.82634,"type":"quantitative","scale":{"domain":[0.81703,0.94197],"nice":false,"zero":false},"axis":null},"text":{"field":"t"}}},
{"data":{"values":[{}]},"mark":{"type":"text","text":"17","color":"#131722","fontSize":10,"fontWeight":"bold","align":"left","baseline":"middle"},
 "encoding":{"x":{"datum":-0.15,"type":"quantitative","scale":{"domain":[-1.475,201.3],"nice":false,"zero":false},"axis":null},
 "y":{"datum":0.82042,"type":"quantitative","scale":{"domain":[0.81703,0.94197],"nice":false,"zero":false},"axis":null}}},
{"data":{"values":[{}]},"mark":{"type":"text","text":"TradingView","color":"#131722","fontSize":9,"align":"left","baseline":"middle"},
 "encoding":{"x":{"datum":2.8,"type":"quantitative","scale":{"domain":[-1.475,201.3],"nice":false,"zero":false},"axis":null},
 "y":{"datum":0.82042,"type":"quantitative","scale":{"domain":[0.81703,0.94197],"nice":false,"zero":false},"axis":null}}},
{"data":{"name":"pticks"},"mark":{"type":"text","color":"#131722","fontSize":8,"align":"center","baseline":"middle"},
 "encoding":{"x":{"datum":195.3,"type":"quantitative","scale":{"domain":[-1.475,201.3],"nice":false,"zero":false},"axis":null},
 "y":{"field":"v","type":"quantitative","scale":{"domain":[0.81703,0.94197],"nice":false,"zero":false},"axis":null},
 "text":{"field":"v","type":"quantitative","format":".5f"}}},
{"data":{"values":[{}]},"mark":{"type":"rect","fill":"white","stroke":"#e0e3eb","strokeWidth":1,"cornerRadius":2},
 "encoding":{"x":{"datum":191.9,"type":"quantitative","scale":{"domain":[-1.475,201.3],"nice":false,"zero":false},"axis":null},"x2":{"datum":199.5},
 "y":{"datum":0.93557,"type":"quantitative","scale":{"domain":[0.81703,0.94197],"nice":false,"zero":false},"axis":null},"y2":{"datum":0.93082}}},
{"data":{"values":[{}]},"mark":{"type":"text","text":"CHF","color":"#131722","fontSize":8.5,"align":"left","baseline":"middle"},
 "encoding":{"x":{"datum":193.2,"type":"quantitative","scale":{"domain":[-1.475,201.3],"nice":false,"zero":false},"axis":null},
 "y":{"datum":0.93388,"type":"quantitative","scale":{"domain":[0.81703,0.94197],"nice":false,"zero":false},"axis":null}}},
{"data":{"name":"tags"},"transform":[{"filter":"datum.v != 0.91151 && datum.v != 0.90598 && datum.v != 0.90175 && datum.v != 0.89826"}],
 "layer":[
 {"mark":{"type":"bar","size":13,"cornerRadius":2},
  "encoding":{"x":{"datum":191.9,"type":"quantitative","scale":{"domain":[-1.475,201.3],"nice":false,"zero":false},"axis":null},"x2":{"datum":198.7},
  "y":{"field":"v","type":"quantitative","scale":{"domain":[0.81703,0.94197],"nice":false,"zero":false},"axis":null},
  "color":{"field":"g","type":"nominal","scale":{"domain":["A","B","MA9","MA21"],"range":["#3263e8","#f23645","#2196f3","#f23645"]},"legend":null}}},
 {"mark":{"type":"text","color":"white","fontSize":8,"align":"center","baseline":"middle"},
  "encoding":{"x":{"datum":195.3,"type":"quantitative","scale":{"domain":[-1.475,201.3],"nice":false,"zero":false},"axis":null},
  "y":{"field":"v","type":"quantitative","scale":{"domain":[0.81703,0.94197],"nice":false,"zero":false},"axis":null},
  "text":{"field":"v","type":"quantitative","format":".5f"}}}
 ]},
{"data":{"values":[{"v":0.91218}]},
 "layer":[
 {"mark":{"type":"bar","size":22,"cornerRadius":2,"color":"#f23645","yOffset":4.5},
  "encoding":{"x":{"datum":191.9,"type":"quantitative","scale":{"domain":[-1.475,201.3],"nice":false,"zero":false},"axis":null},"x2":{"datum":198.7},
  "y":{"field":"v","type":"quantitative","scale":{"domain":[0.81703,0.94197],"nice":false,"zero":false},"axis":null}}},
 {"mark":{"type":"text","color":"white","fontSize":8,"align":"center","baseline":"middle"},
  "encoding":{"x":{"datum":195.3,"type":"quantitative","scale":{"domain":[-1.475,201.3],"nice":false,"zero":false},"axis":null},
  "y":{"field":"v","type":"quantitative","scale":{"domain":[0.81703,0.94197],"nice":false,"zero":false},"axis":null},
  "text":{"field":"v","type":"quantitative","format":".5f"}}},
 {"mark":{"type":"text","text":"13:02:42","color":"#fde3e5","fontSize":7.5,"align":"center","baseline":"middle","yOffset":9.5},
  "encoding":{"x":{"datum":195.3,"type":"quantitative","scale":{"domain":[-1.475,201.3],"nice":false,"zero":false},"axis":null},
  "y":{"field":"v","type":"quantitative","scale":{"domain":[0.81703,0.94197],"nice":false,"zero":false},"axis":null}}},
 {"mark":{"type":"bar","size":12,"cornerRadius":2,"color":"#f23645"},
  "encoding":{"x":{"datum":184.9,"type":"quantitative","scale":{"domain":[-1.475,201.3],"nice":false,"zero":false},"axis":null},"x2":{"datum":191.4},
  "y":{"field":"v","type":"quantitative","scale":{"domain":[0.81703,0.94197],"nice":false,"zero":false},"axis":null}}},
 {"mark":{"type":"text","text":"USDCHF","color":"white","fontSize":7.5,"align":"center","baseline":"middle"},
  "encoding":{"x":{"datum":188.15,"type":"quantitative","scale":{"domain":[-1.475,201.3],"nice":false,"zero":false},"axis":null},
  "y":{"field":"v","type":"quantitative","scale":{"domain":[0.81703,0.94197],"nice":false,"zero":false},"axis":null}}}
 ]},
{"data":{"name":"tags"},"transform":[{"filter":"datum.v == 0.91151"}],
 "layer":[
 {"mark":{"type":"bar","size":13,"cornerRadius":2,"yOffset":19},
  "encoding":{"x":{"datum":191.9,"type":"quantitative","scale":{"domain":[-1.475,201.3],"nice":false,"zero":false},"axis":null},"x2":{"datum":198.7},
  "y":{"field":"v","type":"quantitative","scale":{"domain":[0.81703,0.94197],"nice":false,"zero":false},"axis":null},
  "color":{"field":"g","type":"nominal","scale":{"domain":["A","B","MA9","MA21"],"range":["#3263e8","#f23645","#2196f3","#f23645"]},"legend":null}}},
 {"mark":{"type":"text","color":"white","fontSize":8,"align":"center","baseline":"middle","yOffset":19},
  "encoding":{"x":{"datum":195.3,"type":"quantitative","scale":{"domain":[-1.475,201.3],"nice":false,"zero":false},"axis":null},
  "y":{"field":"v","type":"quantitative","scale":{"domain":[0.81703,0.94197],"nice":false,"zero":false},"axis":null},
  "text":{"field":"v","type":"quantitative","format":".5f"}}}
 ]},
{"data":{"name":"tags"},"transform":[{"filter":"datum.v == 0.90598"}],
 "layer":[
 {"mark":{"type":"bar","size":13,"cornerRadius":2,"yOffset":10.5},
  "encoding":{"x":{"datum":191.9,"type":"quantitative","scale":{"domain":[-1.475,201.3],"nice":false,"zero":false},"axis":null},"x2":{"datum":198.7},
  "y":{"field":"v","type":"quantitative","scale":{"domain":[0.81703,0.94197],"nice":false,"zero":false},"axis":null},
  "color":{"field":"g","type":"nominal","scale":{"domain":["A","B","MA9","MA21"],"range":["#3263e8","#f23645","#2196f3","#f23645"]},"legend":null}}},
 {"mark":{"type":"text","color":"white","fontSize":8,"align":"center","baseline":"middle","yOffset":10.5},
  "encoding":{"x":{"datum":195.3,"type":"quantitative","scale":{"domain":[-1.475,201.3],"nice":false,"zero":false},"axis":null},
  "y":{"field":"v","type":"quantitative","scale":{"domain":[0.81703,0.94197],"nice":false,"zero":false},"axis":null},
  "text":{"field":"v","type":"quantitative","format":".5f"}}}
 ]},
{"data":{"name":"tags"},"transform":[{"filter":"datum.v == 0.90175"}],
 "layer":[
 {"mark":{"type":"bar","size":13,"cornerRadius":2,"yOffset":6.5},
  "encoding":{"x":{"datum":191.9,"type":"quantitative","scale":{"domain":[-1.475,201.3],"nice":false,"zero":false},"axis":null},"x2":{"datum":198.7},
  "y":{"field":"v","type":"quantitative","scale":{"domain":[0.81703,0.94197],"nice":false,"zero":false},"axis":null},
  "color":{"field":"g","type":"nominal","scale":{"domain":["A","B","MA9","MA21"],"range":["#3263e8","#f23645","#2196f3","#f23645"]},"legend":null}}},
 {"mark":{"type":"text","color":"white","fontSize":8,"align":"center","baseline":"middle","yOffset":6.5},
  "encoding":{"x":{"datum":195.3,"type":"quantitative","scale":{"domain":[-1.475,201.3],"nice":false,"zero":false},"axis":null},
  "y":{"field":"v","type":"quantitative","scale":{"domain":[0.81703,0.94197],"nice":false,"zero":false},"axis":null},
  "text":{"field":"v","type":"quantitative","format":".5f"}}}
 ]},
{"data":{"name":"tags"},"transform":[{"filter":"datum.v == 0.89826"}],
 "layer":[
 {"mark":{"type":"bar","size":13,"cornerRadius":2,"yOffset":5.5},
  "encoding":{"x":{"datum":191.9,"type":"quantitative","scale":{"domain":[-1.475,201.3],"nice":false,"zero":false},"axis":null},"x2":{"datum":198.7},
  "y":{"field":"v","type":"quantitative","scale":{"domain":[0.81703,0.94197],"nice":false,"zero":false},"axis":null},
  "color":{"field":"g","type":"nominal","scale":{"domain":["A","B","MA9","MA21"],"range":["#3263e8","#f23645","#2196f3","#f23645"]},"legend":null}}},
 {"mark":{"type":"text","color":"white","fontSize":8,"align":"center","baseline":"middle","yOffset":5.5},
  "encoding":{"x":{"datum":195.3,"type":"quantitative","scale":{"domain":[-1.475,201.3],"nice":false,"zero":false},"axis":null},
  "y":{"field":"v","type":"quantitative","scale":{"domain":[0.81703,0.94197],"nice":false,"zero":false},"axis":null},
  "text":{"field":"v","type":"quantitative","format":".5f"}}}
 ]}
]
},
{
"layer":[
{"data":{"values":[{"lo":30,"hi":70}]},"mark":{"type":"rect","color":"#7e57c2","opacity":0.1},
 "encoding":{"x":{"datum":-0.49,"type":"quantitative","scale":{"domain":[-1.475,201.3],"nice":false,"zero":false},"axis":null},"x2":{"datum":191.6},
 "y":{"field":"lo","type":"quantitative","scale":{"domain":[-21.3,355.7],"nice":false,"zero":false},"axis":null},"y2":{"field":"hi"}}},
{"data":{"values":[{"r":70},{"r":50},{"r":30}]},"mark":{"type":"rule","color":"#787b86","strokeDash":[4,3],"strokeWidth":1},
 "encoding":{"x":{"datum":-0.49,"type":"quantitative","scale":{"domain":[-1.475,201.3],"nice":false,"zero":false},"axis":null},"x2":{"datum":191.6},
 "y":{"field":"r","type":"quantitative","scale":{"domain":[-21.3,355.7],"nice":false,"zero":false},"axis":null},
 "opacity":{"condition":{"test":"datum.r == 50","value":0.45},"value":0.9}}},
{"data":{"name":"rsi"},"mark":{"type":"line","color":"#7e57c2","strokeWidth":1},
 "encoding":{"x":{"field":"i","type":"quantitative","scale":{"domain":[-1.475,201.3],"nice":false,"zero":false},"axis":null},
 "y":{"field":"r","type":"quantitative","scale":{"domain":[-21.3,355.7],"nice":false,"zero":false},"axis":null}}},
{"data":{"values":[{"r":80},{"r":40},{"r":20}]},"mark":{"type":"text","color":"#131722","fontSize":8,"align":"center","baseline":"middle"},
 "encoding":{"x":{"datum":195.3,"type":"quantitative","scale":{"domain":[-1.475,201.3],"nice":false,"zero":false},"axis":null},
 "y":{"field":"r","type":"quantitative","scale":{"domain":[-21.3,355.7],"nice":false,"zero":false},"axis":null},
 "text":{"field":"r","type":"quantitative","format":".2f"}}},
{"data":{"values":[{"r":61.2}]},
 "layer":[
 {"mark":{"type":"bar","size":13,"cornerRadius":2,"color":"#7e57c2"},
  "encoding":{"x":{"datum":191.9,"type":"quantitative","scale":{"domain":[-1.475,201.3],"nice":false,"zero":false},"axis":null},"x2":{"datum":198.2},
  "y":{"field":"r","type":"quantitative","scale":{"domain":[-21.3,355.7],"nice":false,"zero":false},"axis":null}}},
 {"mark":{"type":"text","color":"white","fontSize":8,"align":"center","baseline":"middle"},
  "encoding":{"x":{"datum":195.0,"type":"quantitative","scale":{"domain":[-1.475,201.3],"nice":false,"zero":false},"axis":null},
  "y":{"field":"r","type":"quantitative","scale":{"domain":[-21.3,355.7],"nice":false,"zero":false},"axis":null},
  "text":{"field":"r","type":"quantitative","format":".2f"}}}
 ]},
{"data":{"values":[{}]},"mark":{"type":"text","text":"RSI (14, close)","color":"#131722","fontSize":8.2,"align":"left","baseline":"middle"},
 "encoding":{"x":{"datum":0.91,"type":"quantitative","scale":{"domain":[-1.475,201.3],"nice":false,"zero":false},"axis":null},
 "y":{"datum":84.85,"type":"quantitative","scale":{"domain":[-21.3,355.7],"nice":false,"zero":false},"axis":null}}},
{"data":{"values":[{}]},"mark":{"type":"text","text":"61.20","color":"#7e57c2","fontSize":8.2,"align":"left","baseline":"middle"},
 "encoding":{"x":{"datum":12.2,"type":"quantitative","scale":{"domain":[-1.475,201.3],"nice":false,"zero":false},"axis":null},
 "y":{"datum":84.85,"type":"quantitative","scale":{"domain":[-21.3,355.7],"nice":false,"zero":false},"axis":null}}}
]
}
],
"resolve":{"scale":{"y":"independent"}}
}
